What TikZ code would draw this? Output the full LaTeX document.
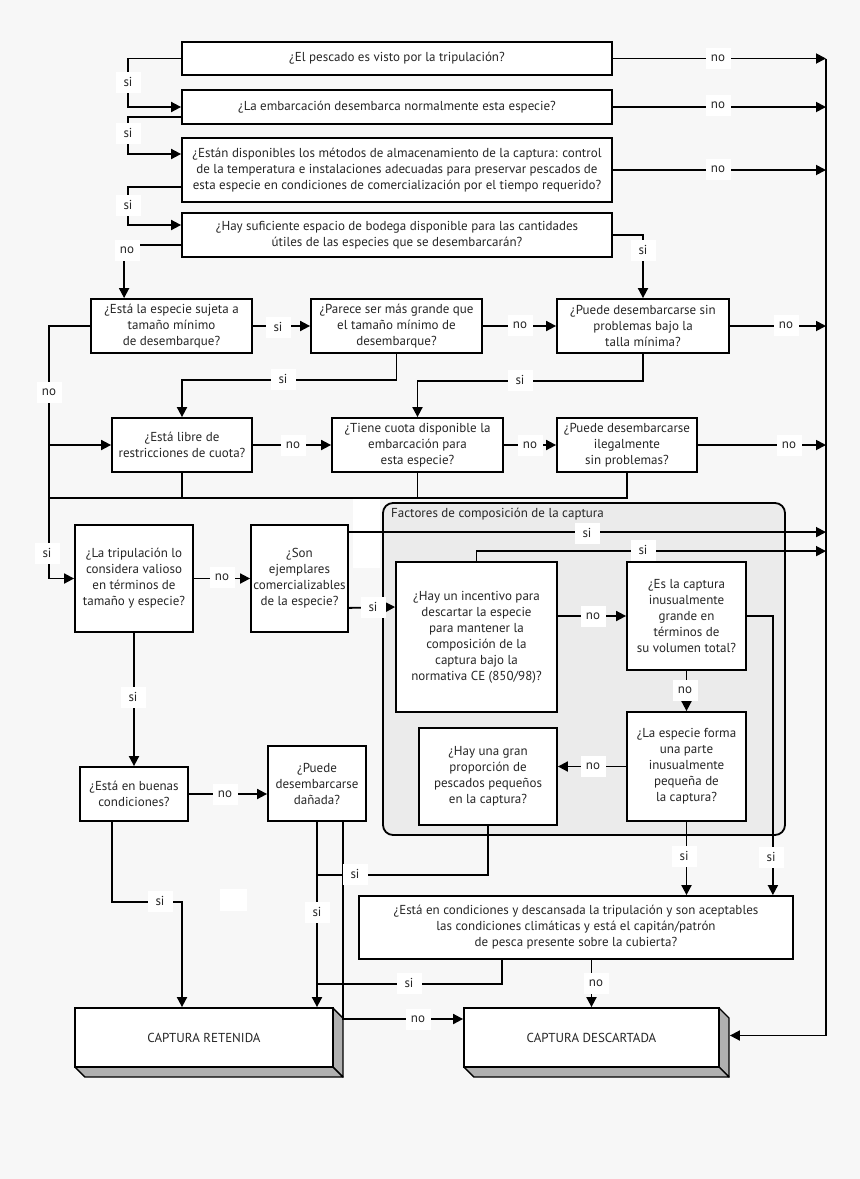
\documentclass[tikz,border=0pt]{standalone}
\usepackage{fontspec}
\setmainfont{PT Sans}
\usetikzlibrary{arrows.meta,calc}
\definecolor{bgc}{HTML}{F7F7F7}
\definecolor{grpc}{HTML}{EBEBEB}
\definecolor{sidec}{HTML}{B0B0B0}
\definecolor{txtc}{HTML}{262626}
\begin{document}
\begin{tikzpicture}[x=1pt,y=-1pt,
  font=\fontsize{13}{16}\selectfont,
  qbox/.style={draw, fill=white, line width=1.8pt, align=center, inner sep=1pt, text=txtc},
  lbl/.style={fill=white, inner sep=1pt, minimum width=25pt, minimum height=21pt, text=txtc},
  conn/.style={line width=1.8pt},
  arr/.style={conn, -{Triangle[length=10pt,width=10pt]}},
  endbox/.style={draw, fill=white, line width=1.8pt, align=center, inner sep=1pt, text=txtc, font=\fontsize{13}{16}\selectfont}
]
\useasboundingbox (0,0) rectangle (860,1179);
\fill[bgc] (0,0) rectangle (860,1179);
% blank white patches
\fill[white] (353,498) rectangle (380,568);
\fill[white] (220,889) rectangle (247,911);
% group
\draw[line width=1.8pt, fill=grpc, rounded corners=10pt] (383,503) rectangle (785,835);
\node[anchor=west, text=txtc, inner sep=0pt] (gt) at (391,514) {Factores de composición de la captura};

% question boxes
\node[qbox, minimum width=430pt, minimum height=33pt] (b1) at (397,58.5) {¿El pescado es visto por la tripulación?};
\node[qbox, minimum width=430pt, minimum height=34pt] (b2) at (397,107) {¿La embarcación desembarca normalmente esta especie?};
\node[qbox, minimum width=430pt, minimum height=64pt] (b3) at (397,170) {¿Están disponibles los métodos de almacenamiento de la captura: control\\de la temperatura e instalaciones adecuadas para preservar pescados de\\esta especie en condiciones de comercialización por el tiempo requerido?};
\node[qbox, minimum width=430pt, minimum height=44pt] (b4) at (397,235) {¿Hay suficiente espacio de bodega disponible para las cantidades\\útiles de las especies que se desembarcarán?};
\node[qbox, minimum width=161pt, minimum height=54pt] (A) at (171.5,326) {¿Está la especie sujeta a\\tamaño mínimo\\de desembarque?};
\node[qbox, minimum width=171pt, minimum height=54pt] (B) at (396.5,326) {¿Parece ser más grande que\\el tamaño mínimo de\\desembarque?};
\node[qbox, minimum width=172pt, minimum height=54pt] (C) at (643,326) {¿Puede desembarcarse sin\\problemas bajo la\\talla mínima?};
\node[qbox, minimum width=140pt, minimum height=54pt] (D) at (182,445) {¿Está libre de\\restricciones de cuota?};
\node[qbox, minimum width=171pt, minimum height=54pt] (E) at (417.5,445) {¿Tiene cuota disponible la\\embarcación para\\esta especie?};
\node[qbox, minimum width=140pt, minimum height=54pt] (F) at (627,445) {¿Puede desembarcarse\\ilegalmente\\sin problemas?};
\node[qbox, minimum width=118pt, minimum height=107pt] (G) at (134,578.5) {¿La tripulación lo\\considera valioso\\en términos de\\tamaño y especie?};
\node[qbox, minimum width=97pt, minimum height=107pt, inner sep=0pt] (H) at (299.5,578.5) {¿Son\\ejemplares\\comercializables\\de la especie?};
\node[qbox, minimum width=161pt, minimum height=150pt] (I) at (476.5,637) {¿Hay un incentivo para\\descartar la especie\\para mantener la\\composición de la\\captura bajo la\\normativa CE (850/98)?};
\node[qbox, minimum width=119pt, minimum height=108pt] (J) at (686.5,616) {¿Es la captura\\inusualmente\\grande en\\términos de\\su volumen total?};
\node[qbox, minimum width=119pt, minimum height=109pt] (K) at (686.5,766.5) {¿La especie forma\\una parte\\inusualmente\\pequeña de\\la captura?};
\node[qbox, minimum width=138pt, minimum height=97pt] (L) at (488,776.5) {¿Hay una gran\\proporción de\\pescados pequeños\\en la captura?};
\node[qbox, minimum width=434pt, minimum height=63pt] (M) at (576,927.5) {¿Está en condiciones y descansada la tripulación y son aceptables\\las condiciones climáticas y está el capitán/patrón\\de pesca presente sobre la cubierta?};
\node[qbox, minimum width=108pt, minimum height=54pt] (N) at (134,794) {¿Está en buenas\\condiciones?};
\node[qbox, minimum width=98pt, minimum height=75pt] (O) at (317,783.5) {¿Puede\\desembarcarse\\dañada?};

% 3D end boxes
\foreach \xa/\xb in {75/333, 464/719}{
  \filldraw[fill=sidec, line width=1.4pt, line join=round] (\xb,1008) -- (\xb+10,1018) -- (\xb+10,1077) -- (\xb,1067) -- cycle;
  \filldraw[fill=sidec, line width=1.4pt, line join=round] (\xa,1067) -- (\xb,1067) -- (\xb+10,1077) -- (\xa+10,1077) -- cycle;
}
\node[endbox, minimum width=258pt, minimum height=59pt] (RET) at (204,1037.5) {CAPTURA RETENIDA};
\node[endbox, minimum width=255pt, minimum height=59pt] (DES) at (591.5,1037.5) {CAPTURA DESCARTADA};

% coordinates
\coordinate (R) at (826,58.5);
\coordinate (LL) at (49,498);

% right-hand collector
\draw[arr] (R) |- ($(DES.east)+(10,-2)$);
\draw[arr] (b1.east) -- (b1.east -| R);
\draw[arr] (b2.east) -- (b2.east -| R);
\draw[arr] (b3.east) -- (b3.east -| R);
% left si chain
\draw[arr] (b1.west) -- ++(-53,0) |- (b2.west);
\draw[arr] ($(b2.west)+(0,10)$) -- ++(-53,0) |- ($(b3.west)+(0,-16)$);
\draw[arr] ($(b3.west)+(0,17)$) -- ++(-53,0) |- ($(b4.west)+(0,-10)$);
\draw[arr] ($(b4.west)+(0,10)$) -| ($(A.north west)+(34,0)$);
\draw[arr] (b4.east) -| (C.north);
% row 2
\draw[arr] (A.east) -- (B.west);
\draw[arr] (B.east) -- (C.west);
\draw[arr] (C.east) -- (C.east -| R);
\draw[arr] (B.south) -- ++(0,26) -| (D.north);
\draw[arr] (C.south) -- ++(0,27) -| (E.north);
% row 3
\draw[arr] (D.east) -- (E.west);
\draw[arr] (E.east) -- (F.west);
\draw[arr] (F.east) -- (F.east -| R);
\draw[conn] (A.west) -| (LL);
\draw[arr] (D.west -| LL) -- (D.west);
\draw[arr] (F.south) |- (LL) |- (G.west);
\draw[conn] (D.south) -- (D.south |- LL);
\draw[conn] (E.south) -- (E.south |- LL);
% row 4
\draw[arr] (G.east) -- (H.west);
\draw[arr] ($(H.north east)+(0,8)$) -- ($(R |- H.north east)+(0,8)$);
\draw[arr] ($(H.south east)+(0,-25)$) -- ($(I.west)+(0,-30)$);
\draw[arr] (I.north) |- ($(R |- I.north)+(0,-10)$);
\draw[arr] (I.east |- J.west) -- (J.west);
\draw[arr] (J.south) -- (K.north);
\draw[arr] (K.west) -- (K.west -| L.east);
\draw[arr] (J.east) -| ($(M.north east)+(-21,0)$);
\draw[arr] (K.south) -- (K.south |- M.north);
\draw[conn] (L.south) |- ($(O.south)+(0,53)$);
% lower
\draw[arr] (G.south) -- (N.north);
\draw[arr] (N.east) -- (N.east -| O.west);
\draw[arr] ($(N.south)+(-22,0)$) -- ++(0,80) -| ($(RET.north)+(-22,0)$);
\draw[arr] (O.south) -- (O.south |- RET.north);
\draw[arr] ($(O.south)+(26,0)$) |- ($(DES.west)+(0,-18.5)$);
\draw[conn] ($(M.south)+(-74,0)$) |- ($(O.south)+(0,162)$);
\draw[arr] (DES.north |- M.south) -- (DES.north);

% labels
\node[lbl] (n1) at (718,58) {no};
\node[lbl] (n2) at (718,105) {no};
\node[lbl] (n3) at (718,169) {no};
\node[lbl] (s1) at (128,82) {si};
\node[lbl] (s2) at (128,133) {si};
\node[lbl] (s3) at (128,205) {si};
\node[lbl] (n4) at (127,250) {no};
\node[lbl] (s4) at (643,250) {si};
\node[lbl] (s5) at (278,327) {si};
\node[lbl] (n5) at (520,325) {no};
\node[lbl] (n6) at (786,325) {no};
\node[lbl] (s6) at (283,379) {si};
\node[lbl] (s7) at (520,380) {si};
\node[lbl] (n7) at (293,445) {no};
\node[lbl] (n8) at (530,445) {no};
\node[lbl] (n9) at (789,445) {no};
\node[lbl] (n10) at (49,392) {no};
\node[lbl] (s8) at (47,553) {si};
\node[lbl] (n11) at (222,577) {no};
\node[lbl] (s9) at (587,533) {si};
\node[lbl] (s10) at (373,607) {si};
\node[lbl] (s11) at (643,550) {si};
\node[lbl] (n12) at (593,616) {no};
\node[lbl] (n13) at (685,690) {no};
\node[lbl] (n14) at (593,766) {no};
\node[lbl] (s12) at (771,857) {si};
\node[lbl] (s13) at (684,856) {si};
\node[lbl] (s14) at (355,874) {si};
\node[lbl] (s15) at (317,912) {si};
\node[lbl] (n15) at (418,1019) {no};
\node[lbl] (s16) at (409,983) {si};
\node[lbl] (n16) at (596,983) {no};
\node[lbl] (s17) at (133,697) {si};
\node[lbl] (n17) at (225,794) {no};
\node[lbl] (s18) at (160,901) {si};
\end{tikzpicture}
\end{document}
